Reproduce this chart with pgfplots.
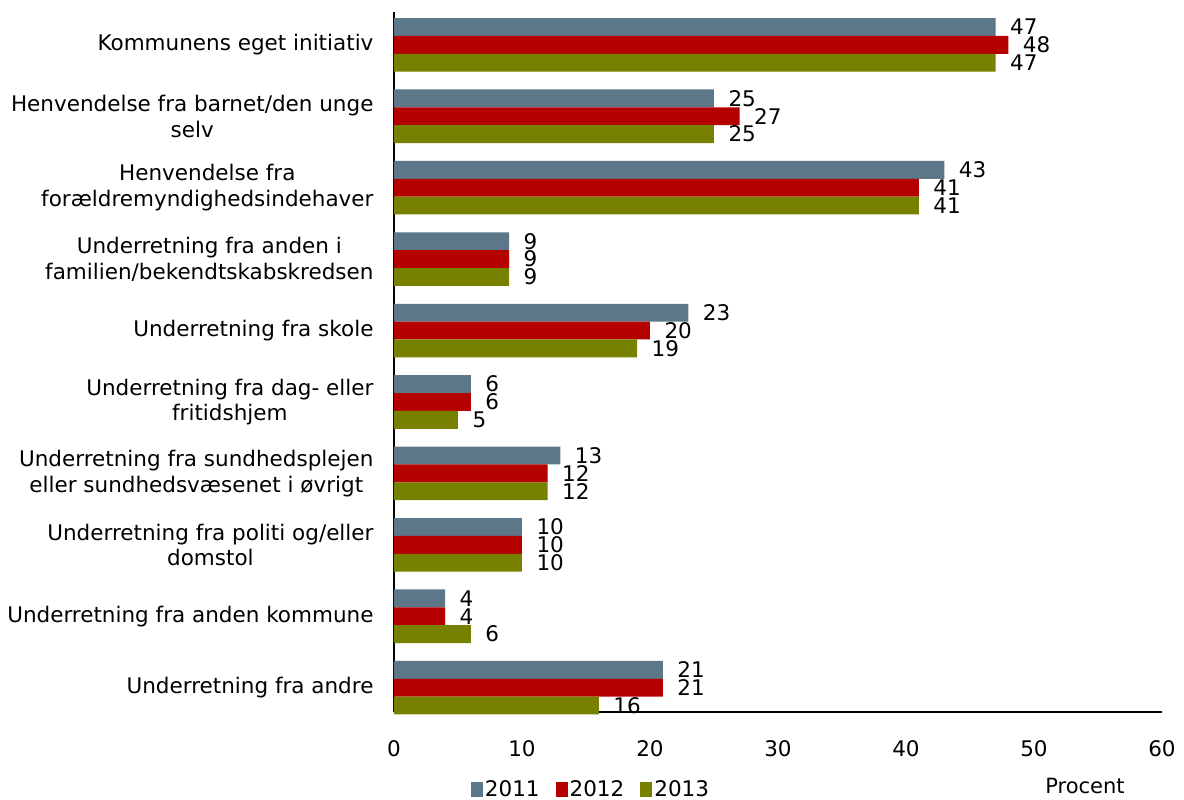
\documentclass[border=0pt]{standalone}
\usepackage{fontspec}
\setmainfont{DejaVu Sans}
\usepackage{pgfplots}
\pgfplotsset{compat=1.18}
\definecolor{c11}{HTML}{5B7788}
\definecolor{c12}{HTML}{B50000}
\definecolor{c13}{HTML}{788000}
\begin{document}
\begin{tikzpicture}
\begin{axis}[
 scale only axis, width=768pt, height=700pt,
 xbar, bar width=0.25,
 xmin=0, xmax=60, ymin=-0.34, ymax=9.46,
 axis x line*=bottom, axis y line*=left,
 axis line style={line width=1.2pt, -},
 xtick={0,10,...,60}, ytick={0,1,...,9},
 yticklabels={Underretning fra andre, Underretning fra anden kommune, {Underretning fra politi og/eller\\domstol}, {Underretning fra sundhedsplejen\\eller sundhedsvæsenet i øvrigt}, {Underretning fra dag- eller\\fritidshjem}, Underretning fra skole, {Underretning fra anden i\\familien/bekendtskabskredsen}, {Henvendelse fra\\forældremyndighedsindehaver}, {Henvendelse fra barnet/den unge\\selv}, Kommunens eget initiativ},
 major tick length=0pt,
 tick label style={font=\fontsize{21.5}{25.5}\selectfont},
 /pgf/number format/assume math mode=true,
 xticklabel style={yshift=-25pt},
 yticklabel style={align=center, xshift=-17pt},
 nodes near coords,
 nodes near coords style={font=\fontsize{21.5}{25.5}\selectfont, xshift=11pt, text=black},
 clip=false,
 legend columns=3,
 legend style={at={(0.2565,-0.111)}, anchor=center, draw=none, font=\fontsize{21.5}{25.5}\selectfont, /tikz/every even column/.append style={column sep=14pt}},
 legend image code/.code={\fill[#1] (0pt,-7pt) rectangle (12pt,8pt);},
]
\addplot[fill=c11, draw=none, bar shift=0.25] coordinates {(47,9) (25,8) (43,7) (9,6) (23,5) (6,4) (13,3) (10,2) (4,1) (21,0)};
\addplot[fill=c12, draw=none, bar shift=0] coordinates {(48,9) (27,8) (41,7) (9,6) (20,5) (6,4) (12,3) (10,2) (4,1) (21,0)};
\addplot[fill=c13, draw=none, bar shift=-0.25] coordinates {(47,9) (25,8) (41,7) (9,6) (19,5) (5,4) (12,3) (10,2) (6,1) (16,0)};
\legend{2011,2012,2013}
\node[anchor=east, font=\fontsize{21}{25}\selectfont] at (rel axis cs:0.956,-0.106) {Procent};
\end{axis}
\pgfresetboundingbox
\path ([shift={(-394pt,-88pt)}]current axis.south west) rectangle ([shift={(22pt,12pt)}]current axis.north east);
\end{tikzpicture}
\end{document}
